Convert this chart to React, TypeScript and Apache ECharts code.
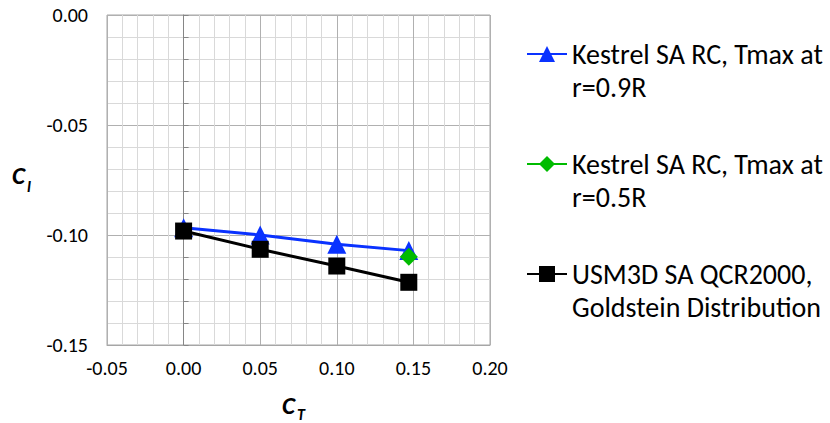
import React, { useEffect, useRef } from "react";
import * as echarts from "echarts";

// Thrust coefficient (C_T) stations
const ctValues = [0, 0.05, 0.1, 0.147];
// Rolling-moment coefficient (C_l) for each run
const kestrelR09 = [-0.0967, -0.1, -0.1042, -0.1071];
const kestrelR05Ct = [0.147];
const kestrelR05 = [-0.1099];
const usm3dGoldstein = [-0.0982, -0.1065, -0.1141, -0.1215];

const seriesNames = [
  "Kestrel SA RC, Tmax at r=0.9R",
  "Kestrel SA RC, Tmax at r=0.5R",
  "USM3D SA QCR2000, Goldstein Distribution",
];
// legend labels wrap onto two lines; the leading blank line keeps the icon level with the first line
const legendLines: Record<string, string> = {
  [seriesNames[0]]: " \nKestrel SA RC, Tmax at\nr=0.9R",
  [seriesNames[1]]: " \nKestrel SA RC, Tmax at\nr=0.5R",
  [seriesNames[2]]: " \nUSM3D SA QCR2000,\nGoldstein Distribution",
};

const FONT = "Carlito, Calibri, Lato, 'Open Sans', sans-serif";

const pairs = (xs: number[], ys: number[]) => xs.map((x, i) => [x, ys[i]]);

export default function App() {
  const ref = useRef<HTMLDivElement>(null);

  useEffect(() => {
    if (!ref.current) return;
    const chart = echarts.init(ref.current, undefined, { renderer: "svg" });

    const legendTops = [4.5, 114.5, 224.5];
    const legends = seriesNames.map((name, i) => ({
      data: [name],
      left: 526,
      top: legendTops[i],
      orient: "vertical" as const,
      padding: 0,
      itemWidth: 40,
      itemHeight: 20,
      selectedMode: false,
      formatter: (n: string) => legendLines[n],
      textStyle: {
        fontFamily: FONT,
        fontSize: 28,
        lineHeight: 33,
        color: "#000",
      },
    }));

    chart.setOption({
      animation: false,
      backgroundColor: "#fff",
      textStyle: { fontFamily: FONT },
      grid: { left: 107, top: 15, right: 340, bottom: 78, containLabel: false, show: true, borderColor: "#a6a6a6", borderWidth: 1 },
      legend: legends,
      xAxis: {
        type: "value",
        min: -0.05,
        max: 0.2,
        interval: 0.05,
        axisLine: { show: true, onZero: false, lineStyle: { color: "#a6a6a6" } },
        axisTick: { show: false },
        axisLabel: {
          formatter: (v: number) => v.toFixed(2),
          fontFamily: FONT,
          fontSize: 20,
          color: "#000",
          margin: 13,
        },
        splitLine: { show: true, lineStyle: { color: "#b0b0b0", width: 1 } },
        minorTick: { show: false, splitNumber: 5 },
        minorSplitLine: { show: true, lineStyle: { color: "#d9d9d9", width: 1 } },
      },
      yAxis: [
        {
          type: "value",
          min: -0.15,
          max: 0,
          interval: 0.05,
          axisLine: { show: false, onZero: false },
          axisTick: { show: false },
          axisLabel: {
            formatter: (v: number) => v.toFixed(2),
            fontFamily: FONT,
            fontSize: 20,
            color: "#000",
            margin: 19,
          },
          splitLine: { show: true, lineStyle: { color: "#b0b0b0", width: 1 } },
          minorTick: { show: false, splitNumber: 5 },
          minorSplitLine: { show: true, lineStyle: { color: "#d9d9d9", width: 1 } },
        },
        {
          // vertical axis line crossing at C_T = 0
          type: "value",
          min: -0.15,
          max: 0,
          interval: 0.01,
          axisLine: { show: true, onZero: true, lineStyle: { color: "#868686", width: 1 } },
          axisTick: { show: true, length: 5, lineStyle: { color: "#868686" } },
          axisLabel: { show: false },
          splitLine: { show: false },
        },
      ],
      series: [
        {
          name: seriesNames[0],
          type: "line",
          data: pairs(ctValues, kestrelR09),
          symbol: "triangle",
          symbolSize: 19,
          lineStyle: { color: "#0a32ff", width: 3 },
          itemStyle: { color: "#0a32ff" },
        },
        {
          name: seriesNames[1],
          type: "line",
          data: pairs(kestrelR05Ct, kestrelR05),
          symbol: "diamond",
          symbolSize: 18,
          lineStyle: { color: "#00bb00", width: 2 },
          itemStyle: { color: "#00bb00" },
        },
        {
          name: seriesNames[2],
          type: "line",
          data: pairs(ctValues, usm3dGoldstein),
          symbol: "rect",
          symbolSize: 17,
          lineStyle: { color: "#000", width: 3 },
          itemStyle: { color: "#000" },
        },
      ],
      graphic: [
        { type: "text", left: 12, top: 163, style: { text: "C", font: `italic bold 25px ${FONT}`, fill: "#000" } },
        { type: "text", left: 27, top: 178, style: { text: "l", font: `italic bold 16px ${FONT}`, fill: "#000" } },
        { type: "text", left: 282, top: 393, style: { text: "C", font: `italic bold 25px ${FONT}`, fill: "#000" } },
        { type: "text", left: 297, top: 406, style: { text: "T", font: `italic bold 16px ${FONT}`, fill: "#000" } },
      ],
    });

    return () => chart.dispose();
  }, []);

  return (
    <div
      ref={ref}
      style={{ position: "fixed", left: 0, top: 0, width: 830, height: 423, background: "#fff" }}
    />
  );
}
